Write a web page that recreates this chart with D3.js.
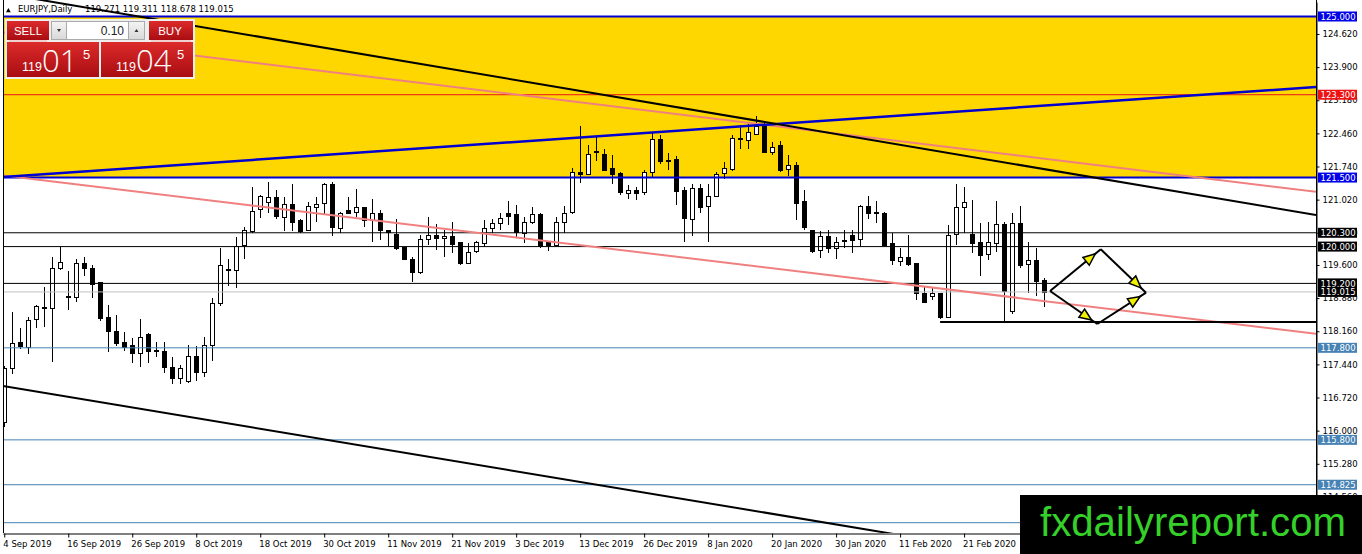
<!DOCTYPE html>
<html>
<head>
<meta charset="utf-8">
<script src="https://cdn.jsdelivr.net/npm/d3@7"></script>
<style>
body { margin: 0; background: #fff; overflow: hidden; }
svg { display: block; }
text { font-family: "DejaVu Sans", sans-serif; }
</style>
</head>
<body>
<svg id="chart" width="1362" height="554"></svg>
<script>
// EURJPY daily bars, 4 Sep 2019 .. early Mar 2020
const dateLabels = ["4 Sep 2019", "16 Sep 2019", "26 Sep 2019", "8 Oct 2019", "18 Oct 2019", "30 Oct 2019",
    "11 Nov 2019", "21 Nov 2019", "3 Dec 2019", "13 Dec 2019", "26 Dec 2019", "8 Jan 2020",
    "20 Jan 2020", "30 Jan 2020", "11 Feb 2020", "21 Feb 2020"];
const labelBars = [0, 8, 16, 24, 32, 40, 48, 56, 64, 72, 80, 88, 96, 104, 112, 120];

const open = [116.20,117.37,117.93,117.83,118.41,118.66,118.67,119.54,118.93,118.91,
    119.65,119.54,119.22,118.48,118.17,117.93,117.87,117.70,118.09,117.75,
    117.74,117.39,117.15,117.09,117.63,117.28,117.87,118.78,119.50,119.50,
    120.02,120.35,120.80,120.96,121.07,120.65,120.93,120.57,120.37,120.87,
    120.93,121.35,120.41,120.80,120.74,120.85,120.57,120.72,120.35,120.28,
    120.00,119.74,119.46,120.17,120.26,120.20,120.24,120.09,119.65,119.89,
    120.09,120.41,120.52,120.72,120.70,120.30,120.52,120.70,120.09,120.04,
    120.54,120.74,121.63,121.59,122.04,122.02,121.70,121.59,121.17,121.24,
    121.17,121.61,122.33,121.89,121.91,121.24,120.61,121.28,120.87,121.09,
    121.59,121.67,122.33,122.30,122.46,122.65,122.07,122.20,121.70,121.78,
    120.98,120.37,119.93,120.24,119.98,120.12,120.26,120.17,120.89,120.74,
    120.74,120.07,119.70,119.78,119.65,119.00,118.93,119.00,118.48,120.26,
    120.85,120.28,120.11,119.83,120.09,120.50,118.61,120.52,119.61,119.70,
    119.271];
const high = [117.40,118.57,118.22,118.48,118.74,119.13,119.78,120.00,119.48,119.74,
    119.78,119.61,119.22,118.74,118.52,118.15,118.02,118.43,118.13,117.93,
    117.93,117.61,117.43,117.87,117.83,118.04,118.89,119.96,119.74,120.20,
    120.43,121.30,121.13,121.41,121.24,121.07,121.35,120.59,120.96,121.07,
    121.39,121.41,120.76,121.07,121.26,120.87,121.04,120.80,120.37,120.59,
    120.00,119.78,120.26,120.65,120.50,120.37,120.54,120.09,120.07,120.13,
    120.57,120.59,120.74,120.98,120.91,120.65,120.85,120.72,120.11,120.65,
    120.89,121.70,122.61,122.20,122.39,122.11,122.00,121.61,121.33,121.30,
    121.67,122.48,122.43,122.04,121.96,121.30,121.35,121.35,121.35,121.63,
    121.83,122.43,122.65,122.67,122.83,122.72,122.28,122.30,121.98,121.83,
    121.22,120.37,120.33,120.35,120.20,120.35,120.35,120.91,121.09,120.98,
    120.76,120.30,119.98,120.26,119.65,119.13,119.11,119.00,120.46,121.35,
    121.30,121.02,120.52,120.54,120.98,120.54,120.74,120.89,120.09,119.96,
    119.311];
const low = [116.07,117.24,117.78,117.67,118.22,118.26,117.50,119.50,118.63,118.80,
    119.35,118.89,118.39,117.70,117.83,117.74,117.48,117.39,117.48,117.61,
    117.26,117.02,117.02,117.04,117.07,117.17,117.52,118.70,119.14,119.11,
    119.72,120.30,120.63,120.74,120.59,120.33,120.33,120.30,120.35,120.54,
    120.70,120.22,120.30,120.70,120.65,120.43,120.11,120.15,120.00,119.93,
    119.72,119.22,119.41,120.04,119.93,119.78,119.87,119.61,119.63,119.87,
    120.00,120.30,120.35,120.46,120.20,120.07,120.50,119.96,119.91,120.02,
    120.30,120.70,121.39,121.57,121.87,121.65,121.37,121.13,121.04,121.02,
    121.13,121.52,121.80,121.67,120.91,120.11,120.22,120.72,120.11,121.07,
    121.46,121.65,122.13,122.13,122.43,122.04,121.98,121.63,121.54,120.57,
    120.35,119.87,119.76,119.85,119.74,119.98,119.87,120.00,120.59,120.52,
    120.02,119.61,119.57,119.57,118.83,118.80,118.83,118.43,118.48,120.04,
    120.30,119.85,119.35,119.70,119.89,118.35,118.54,119.54,119.00,118.93,
    118.678];
const close = [117.37,117.91,117.85,118.41,118.70,118.69,119.54,119.67,118.90,119.65,
    119.54,119.20,118.43,118.17,117.91,117.83,117.70,118.04,117.72,117.73,
    117.39,117.15,117.37,117.63,117.28,117.87,118.78,119.61,119.52,120.02,
    120.35,120.78,121.09,121.07,120.65,120.93,120.54,120.33,120.89,120.93,
    121.35,120.41,120.74,120.74,120.85,120.57,120.72,120.35,120.30,119.98,
    119.74,119.46,120.17,120.26,120.20,120.24,120.07,119.63,119.89,120.09,
    120.41,120.52,120.63,120.65,120.30,120.54,120.70,120.00,120.02,120.54,
    120.74,121.61,121.59,122.02,122.07,121.67,121.57,121.17,121.24,121.17,
    121.61,122.33,121.85,121.87,121.22,120.63,121.28,120.87,121.09,121.57,
    121.70,122.35,122.35,122.48,122.63,122.07,122.17,121.65,121.78,120.96,
    120.41,119.91,120.24,119.98,120.11,120.14,120.15,120.89,120.74,120.75,
    120.04,119.70,119.78,119.63,119.00,118.80,119.00,118.48,120.26,120.85,
    120.96,120.09,119.83,120.09,120.50,119.04,120.52,119.61,119.70,119.24,
    119.015];

const priceTicks = [124.62, 123.90, 123.18, 122.46, 121.74, 121.02, 120.30, 119.60, 118.88,
    118.16, 117.44, 116.72, 116.00, 115.28, 114.56];

// horizontal levels
const zoneLevels = [125.000, 121.500];     // yellow zone edges
const redLevels = [123.300];
const blackLevels = [120.300, 120.000, 119.200];
const bidLevel = [119.015];
const steelLevels = [117.800, 115.800, 114.825];
const hiddenLevels = [114.000];            // label sits under the watermark

// trend lines as [bar, price] pairs
const upperBlack = [[6.1, 125.315], [164, 120.687]];
const lowerBlack = [[-0.125, 116.971], [109.25, 113.81]];
const blueRising = [[-0.125, 121.512], [164, 123.468]];
const pinkUpper = [[-0.125, 124.657], [164, 121.191]];
const pinkLower = [[-0.125, 121.543], [164, 118.105]];
const supportLine = [[117, 118.362], [164, 118.362]];
// diamond projection: left, top, right, bottom
const diamond = [[130.75, 119.035], [137.09, 119.941], [142.75, 118.998], [136.66, 118.318]];

const ohlcTitle = ["119.271", "119.311", "118.678", "119.015"];

const svg = d3.select("#chart");
const W = 1362, H = 554;
const plotLeft = 3, plotRight = 1316, plotTop = 0, plotBottom = 533;

const x = d3.scaleLinear().domain([-0.16, 164]).range([plotLeft, plotRight]);
const y = d3.scaleLinear().domain([113.776, 125.315]).range([plotBottom, 2]);

svg.append("rect").attr("width", W).attr("height", H).attr("fill", "#fff");

const defs = svg.append("defs");
defs.append("clipPath").attr("id", "plotclip")
    .append("rect").attr("x", plotLeft).attr("y", plotTop).attr("width", plotRight - plotLeft).attr("height", plotBottom - plotTop);

const redGrad = defs.append("linearGradient").attr("id", "redgrad").attr("x1", 0).attr("y1", 0).attr("x2", 0).attr("y2", 1);
redGrad.append("stop").attr("offset", "0%").attr("stop-color", "#dc2a2a");
redGrad.append("stop").attr("offset", "100%").attr("stop-color", "#a90d12");
const grayGrad = defs.append("linearGradient").attr("id", "graygrad").attr("x1", 0).attr("y1", 0).attr("x2", 0).attr("y2", 1);
grayGrad.append("stop").attr("offset", "0%").attr("stop-color", "#f4f4f4");
grayGrad.append("stop").attr("offset", "100%").attr("stop-color", "#d8d8d8");

const plot = svg.append("g").attr("clip-path", "url(#plotclip)");

// yellow zone
plot.append("rect")
    .attr("x", plotLeft)
    .attr("y", y(zoneLevels[0]))
    .attr("width", plotRight - plotLeft)
    .attr("height", y(zoneLevels[1]) - y(zoneLevels[0]))
    .attr("fill", "#ffd700");

// candles
const bars = d3.range(open.length);
const candles = plot.append("g").attr("shape-rendering", "crispEdges");
candles.selectAll("line").data(bars).join("line")
    .attr("x1", i => Math.round(x(i)) + 0.5)
    .attr("x2", i => Math.round(x(i)) + 0.5)
    .attr("y1", i => y(high[i]))
    .attr("y2", i => y(low[i]))
    .attr("stroke", "#000");
candles.selectAll("rect").data(bars).join("rect")
    .attr("x", i => Math.round(x(i)) - 1.5)
    .attr("y", i => Math.round(y(Math.max(open[i], close[i]))) + 0.5)
    .attr("width", 4)
    .attr("height", i => Math.max(0.5, Math.round(Math.abs(y(open[i]) - y(close[i])))))
    .attr("fill", i => close[i] > open[i] ? "#fff" : "#000")
    .attr("stroke", "#000");

// horizontal levels
function hline(levels, color, width) {
    plot.append("g").selectAll("line").data(levels).join("line")
        .attr("x1", plotLeft).attr("x2", plotRight)
        .attr("y1", d => y(d)).attr("y2", d => y(d))
        .attr("stroke", color)
        .attr("stroke-width", width);
}
hline(steelLevels, "#4682b4", 1);
hline(hiddenLevels, "#4682b4", 1);
hline(bidLevel, "#c0c0c0", 1);
hline(blackLevels, "#000", 1);
hline(redLevels, "#e8141c", 1);
hline(zoneLevels, "#0000d0", 2);

// trend lines, extended over the whole plot
function extend(pts) {
    const [a, b] = pts;
    const k = (b[1] - a[1]) / (b[0] - a[0]);
    const d = x.domain();
    return [[d[0], a[1] + k * (d[0] - a[0])], [d[1], a[1] + k * (d[1] - a[0])]];
}
const line = d3.line().x(d => x(d[0])).y(d => y(d[1]));
function trend(pts, color, width, ray) {
    plot.append("path")
        .datum(ray ? extend(pts) : pts)
        .attr("d", line)
        .attr("fill", "none")
        .attr("stroke", color)
        .attr("stroke-width", width);
}
trend(pinkUpper, "#f08080", 2, true);
trend(pinkLower, "#f08080", 2, true);
trend(blueRising, "#0000d0", 2.5, true);
trend(upperBlack, "#000", 2, true);
trend(lowerBlack, "#000", 2, true);
trend(supportLine, "#000", 2, false);

// diamond with arrow heads
const edges = [[0, 1], [1, 2], [0, 3], [3, 2]];
const dg = plot.append("g");
edges.forEach(([a, b]) => {
    const p0 = [x(diamond[a][0]), y(diamond[a][1])];
    const p1 = [x(diamond[b][0]), y(diamond[b][1])];
    dg.append("line")
        .attr("x1", p0[0]).attr("y1", p0[1]).attr("x2", p1[0]).attr("y2", p1[1])
        .attr("stroke", "#000").attr("stroke-width", 2);
    const len = Math.hypot(p1[0] - p0[0], p1[1] - p0[1]);
    const ux = (p1[0] - p0[0]) / len, uy = (p1[1] - p0[1]) / len;
    const tip = [p0[0] + ux * (len - 7), p0[1] + uy * (len - 7)];
    const base = [tip[0] - ux * 12, tip[1] - uy * 12];
    const pts = [tip, [base[0] - uy * 5, base[1] + ux * 5], [base[0] + uy * 5, base[1] - ux * 5]];
    dg.append("polygon")
        .attr("points", pts.map(p => p.join(",")).join(" "))
        .attr("fill", "#f0f000")
        .attr("stroke", "#000")
        .attr("stroke-width", 1.5);
});

// frame
svg.append("line").attr("x1", plotLeft + 0.5).attr("x2", plotLeft + 0.5).attr("y1", 0).attr("y2", plotBottom)
    .attr("stroke", "#000");

// axes
const xAxis = svg.append("g")
    .attr("transform", `translate(0,${plotBottom + 0.5})`)
    .call(d3.axisBottom(x).tickValues(labelBars).tickFormat((d, i) => dateLabels[i]).tickSizeInner(4).tickSizeOuter(0).tickPadding(3));
xAxis.selectAll("text")
    .attr("text-anchor", "start")
    .attr("x", -1.5)
    .attr("fill", "#000")
    .style("font-size", "8.5px");

const yAxis = svg.append("g")
    .attr("transform", `translate(${plotRight + 0.5},0)`)
    .call(d3.axisRight(y).tickValues(priceTicks).tickFormat(d3.format(".3f")).tickSizeInner(3).tickSizeOuter(0).tickPadding(3));
yAxis.selectAll("text")
    .attr("fill", "#000")
    .style("font-size", "8.5px");
svg.append("line").attr("x1", plotRight + 0.5).attr("x2", plotRight + 0.5).attr("y1", 0).attr("y2", plotBottom)
    .attr("stroke", "#000");

// level price boxes on the axis
function priceBox(levels, color) {
    const g = svg.append("g").selectAll("g").data(levels).join("g")
        .attr("transform", d => `translate(${plotRight + 2},${y(d)})`);
    g.append("rect").attr("x", 0).attr("y", -5).attr("width", 39).attr("height", 10).attr("fill", color);
    g.append("text").attr("x", 2.5).attr("y", 3.2).attr("fill", "#fff")
        .style("font-size", "8.5px").text(d => d.toFixed(3));
}
priceBox(steelLevels, "#4682b4");
priceBox(blackLevels, "#000");
priceBox(bidLevel, "#000");
priceBox(redLevels, "#ee1111");
priceBox(zoneLevels, "#0000e8");

// title
svg.append("path").attr("d", "M6,12.3 L8.4,8 L10.8,12.3 Z").attr("fill", "#000");
svg.append("text").attr("x", 18).attr("y", 12.3).style("font-size", "8.5px").attr("fill", "#000").text("EURJPY,Daily");
svg.append("text").attr("x", 85).attr("y", 12.3).style("font-size", "8.5px").attr("fill", "#000").text(ohlcTitle.join(" "));

// one-click trading panel
const panel = svg.append("g");
panel.append("rect").attr("x", 5).attr("y", 19).attr("width", 190).attr("height", 60).attr("fill", "#eeeeee");
panel.append("rect").attr("x", 7).attr("y", 21).attr("width", 42).attr("height", 19).attr("fill", "url(#redgrad)");
panel.append("rect").attr("x", 149).attr("y", 21).attr("width", 44).attr("height", 19).attr("fill", "url(#redgrad)");
panel.append("rect").attr("x", 51.5).attr("y", 21.5).attr("width", 15).attr("height", 18).attr("fill", "url(#graygrad)").attr("stroke", "#aaa");
panel.append("rect").attr("x", 66.5).attr("y", 21.5).attr("width", 62).attr("height", 18).attr("fill", "#fff").attr("stroke", "#aaa");
panel.append("rect").attr("x", 128.5).attr("y", 21.5).attr("width", 16).attr("height", 18).attr("fill", "url(#graygrad)").attr("stroke", "#aaa");
panel.append("path").attr("d", "M57,29 L61,29 L59,32 Z").attr("fill", "#333");
panel.append("path").attr("d", "M134.5,32 L138.5,32 L136.5,29 Z").attr("fill", "#333");
panel.append("text").attr("x", 28).attr("y", 35).attr("text-anchor", "middle").attr("fill", "#fff")
    .style("font-family", "'Liberation Sans', Arial, sans-serif").style("font-size", "11.5px").text("SELL");
panel.append("text").attr("x", 170).attr("y", 35).attr("text-anchor", "middle").attr("fill", "#fff")
    .style("font-family", "'Liberation Sans', Arial, sans-serif").style("font-size", "11.5px").text("BUY");
panel.append("text").attr("x", 124).attr("y", 35).attr("text-anchor", "end").attr("fill", "#222")
    .style("font-family", "'Liberation Sans', Arial, sans-serif").style("font-size", "12px").text("0.10");
panel.append("rect").attr("x", 7).attr("y", 42).attr("width", 92).attr("height", 35).attr("fill", "url(#redgrad)");
panel.append("rect").attr("x", 101).attr("y", 42).attr("width", 92).attr("height", 35).attr("fill", "url(#redgrad)");
panel.append("line").attr("x1", 9).attr("x2", 47).attr("y1", 41).attr("y2", 41).attr("stroke", "#f6b0b0");
panel.append("line").attr("x1", 151).attr("x2", 191).attr("y1", 41).attr("y2", 41).attr("stroke", "#f6b0b0");

const quotes = [{x0: 7, big: "01"}, {x0: 101, big: "04"}];
quotes.forEach(q => {
    panel.append("text").attr("x", q.x0 + 15).attr("y", 71).attr("fill", "#fff")
        .style("font-family", "'Liberation Sans', Arial, sans-serif").style("font-size", "12.5px").text("119");
    panel.append("text").attr("x", q.x0 + 35).attr("y", 72).attr("fill", "#fff")
        .style("font-family", "'Open Sans', 'Liberation Sans', sans-serif").style("font-weight", "300").style("font-size", "31px").text(q.big);
    panel.append("text").attr("x", q.x0 + 76).attr("y", 59).attr("fill", "#fff")
        .style("font-family", "'Liberation Sans', Arial, sans-serif").style("font-size", "13px").text("5");
});

// watermark
svg.append("rect").attr("x", 1020).attr("y", 495).attr("width", 342).attr("height", 59).attr("fill", "#000");
svg.append("text").attr("x", 1040).attr("y", 536)
    .attr("fill", "#35d02a")
    .style("font-family", "'Liberation Sans', Arial, sans-serif")
    .style("font-size", "40px")
    .attr("textLength", 306)
    .attr("lengthAdjust", "spacingAndGlyphs")
    .text("fxdailyreport.com");
</script>
</body>
</html>
